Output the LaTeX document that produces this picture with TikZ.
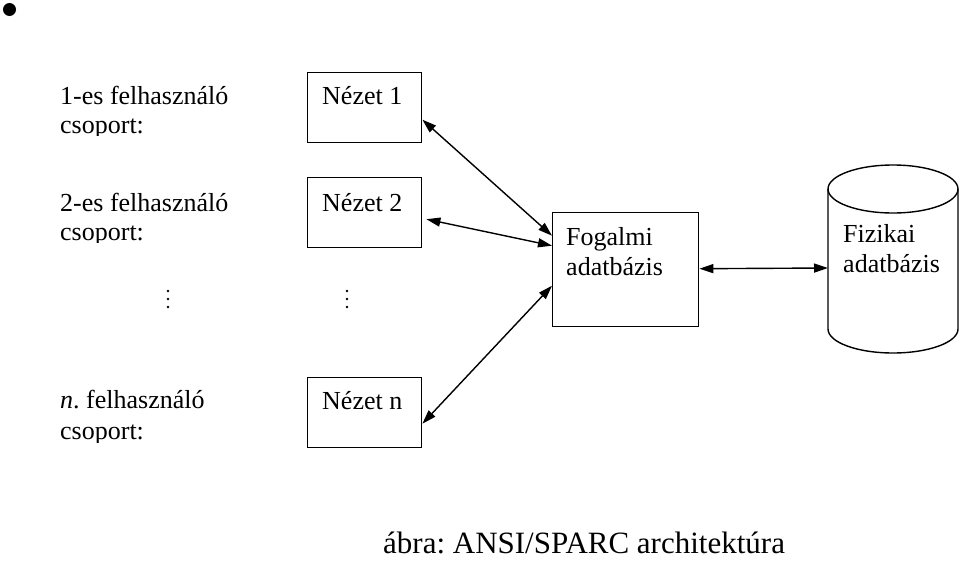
\documentclass[tikz,border=0pt]{standalone}
\usepackage{fontspec}
\setmainfont{Liberation Serif}
\usetikzlibrary{arrows.meta}
\frenchspacing
\begin{document}
\begin{tikzpicture}[x=1pt,y=-1pt,
  lbl/.style={anchor=base west,inner sep=0pt,font=\fontsize{26}{28}\selectfont},
  box/.style={draw,line width=1.4pt,inner sep=0pt,anchor=north west,minimum width=114pt,minimum height=70pt},
  conn/.style={line width=1.4pt,{Triangle[length=14pt,width=9pt]}-{Triangle[length=14pt,width=9pt]}},
  dot/.style={circle,fill,inner sep=0pt,minimum size=2.8pt}]
\useasboundingbox (0,0) rectangle (960,562);
% bullet
\node[circle,fill,inner sep=0pt,minimum size=13pt] (bullet) at (9.5,9.5) {};
% left labels
\node[lbl] (g1) at (60,104) {1-es felhasználó};
\begin{scope}\clip (0,0) rectangle (300,135);
\node[lbl] (c1) at (60,133) {csoport:};
\end{scope}
\node[lbl] (g2) at (60,211) {2-es felhasználó};
\begin{scope}\clip (0,150) rectangle (300,242);
\node[lbl] (c2) at (60,240) {csoport:};
\end{scope}
\node[lbl] (gn) at (60,408) {\textit{n}. felhasználó};
\begin{scope}\clip (0,415) rectangle (300,442);
\node[lbl] (cn) at (60,439) {csoport:};
\end{scope}
% dots
\foreach \i/\yy in {1/291,2/299,3/307}{
  \node[dot] (dl\i) at (168,\yy) {};
  \node[dot] (dr\i) at (347,\yy) {};
}
% view boxes
\node[box] (n1) at (307,72) {};
\node[lbl] (t1) at (322,104) {Nézet 1};
\node[box] (n2) at (307,177) {};
\node[lbl] (t2) at (322,211) {Nézet 2};
\node[box] (nn) at (307,377) {};
\node[lbl] (tn) at (322,409) {Nézet n};
% conceptual
\node[box,minimum width=146pt,minimum height=114pt] (fog) at (552,212) {};
\node[lbl] (tf1) at (566,245) {Fogalmi};
\node[lbl] (tf2) at (566,275) {adatbázis};
% physical cylinder
\draw[line width=1.4pt] (828,189) -- (828,329) arc[start angle=180,end angle=0,x radius=65,y radius=24] -- (958,189);
\draw[line width=1.4pt] (893,189) ellipse[x radius=65,y radius=24];
\coordinate (fiz) at (828,268);
\node[lbl] (tz1) at (843,242) {Fizikai};
\node[lbl] (tz2) at (843,272) {adatbázis};
% connectors
\draw[conn] ([yshift=-12pt]n1.east) -- ([yshift=34pt]fog.west);
\draw[conn] ([xshift=4pt,yshift=-6.5pt]n2.east) -- ([yshift=24pt]fog.west);
\draw[conn] ([yshift=-11pt]nn.east) -- ([yshift=-16pt]fog.west);
\draw[conn] ([yshift=1pt]fog.east) -- (fiz);
% caption
\node[anchor=base west,inner sep=0pt,font=\fontsize{31}{33}\selectfont] (cap) at (383,553) {ábra: ANSI/SPARC architektúra};
\end{tikzpicture}
\end{document}
